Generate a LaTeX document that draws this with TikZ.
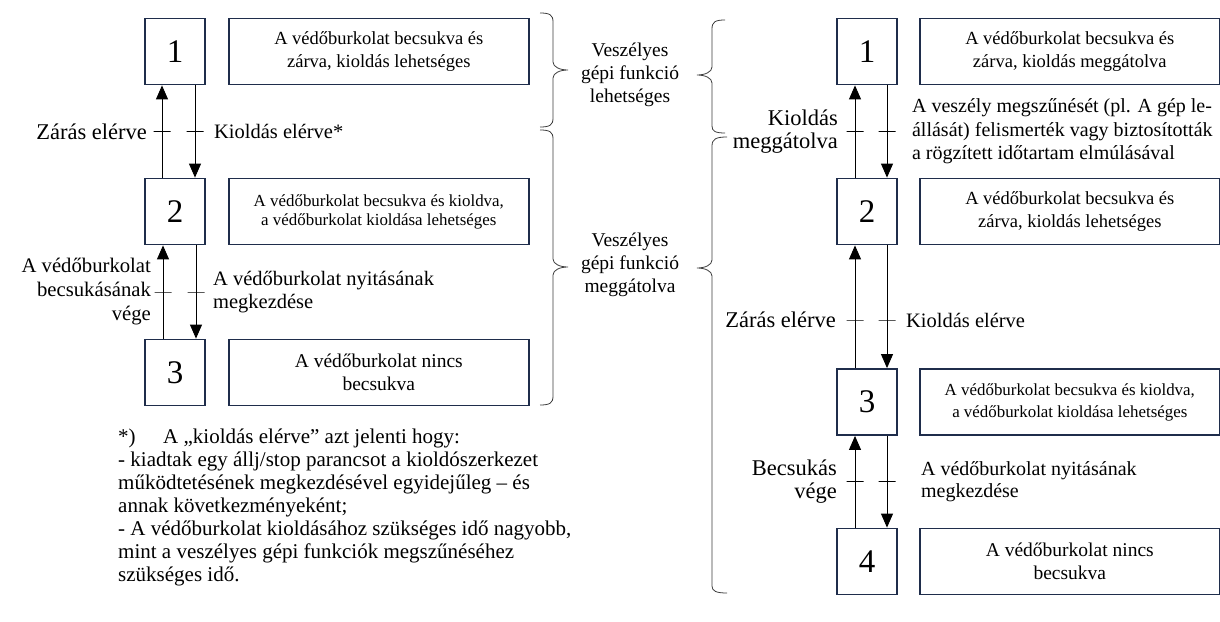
\documentclass[tikz,border=0pt]{standalone}
\usepackage{fontspec}
\setmainfont{Liberation Serif}
\usepackage{tikz}
\usetikzlibrary{positioning, arrows.meta}
\definecolor{framecol}{RGB}{31,45,75}
\definecolor{bracecol}{RGB}{60,60,60}

\begin{document}
\begin{tikzpicture}[x=1pt, y=-1pt,
	statebox/.style={rectangle, draw=framecol, line width=1.8pt, minimum width=60pt, minimum height=66pt, inner sep=0pt, font=\fontsize{33}{36}\selectfont},
	desc/.style={rectangle, draw=framecol, line width=1.8pt, minimum width=300pt, minimum height=66pt, inner sep=2pt, align=center, font=\fontsize{18.5}{22.5}\selectfont},
	descsmall/.style={desc, font=\fontsize{16.9}{19}\selectfont},
	descbig/.style={desc, font=\fontsize{19.5}{23}\selectfont},
	trans/.style={-{Triangle[length=14pt,width=12pt]}, line width=0.9pt},
	tickmark/.style={draw, line width=0.8pt, minimum width=17pt, minimum height=0pt, inner sep=0pt},
	biglbl/.style={align=right, inner sep=3pt, font=\fontsize{22.5}{23}\selectfont},
	lbl/.style={align=left, inner sep=3pt, font=\fontsize{20.5}{22.5}\selectfont},
	bracetext/.style={align=center, font=\fontsize{19.5}{23}\selectfont},
	bracepath/.style={draw=bracecol, line width=0.8pt}]
	\useasboundingbox (0,0) rectangle (1220,621);

	\node[statebox] (s1) at (175,51.5) {1};
	\node[statebox] (s2) at (175,211.5) {2};
	\node[statebox] (s3) at (175,372.5) {3};
	\node[desc, right=22pt of s1] (d1) {A védőburkolat becsukva és\\zárva, kioldás lehetséges};
	\node[descsmall, right=22pt of s2] (d2) {A védőburkolat becsukva és kioldva,\\a védőburkolat kioldása lehetséges};
	\node[descbig, right=22pt of s3] (d3) {A védőburkolat nincs\\becsukva};

	\draw[trans] ([xshift=-13pt]s2.north) -- node[tickmark] (k21) {} ([xshift=-13pt]s1.south);
	\draw[trans] ([xshift=20pt]s1.south) -- node[tickmark] (k12) {} ([xshift=20pt]s2.north);
	\draw[trans] ([xshift=-12pt]s3.north) -- node[tickmark] (k32) {} ([xshift=-12pt]s2.south);
	\draw[trans] ([xshift=21pt]s2.south) -- node[tickmark] (k23) {} ([xshift=21pt]s3.north);
	\node[biglbl, left=3pt of k21] (l21) {Zárás elérve};
	\node[lbl, right=7pt of k12] (l12) {Kioldás elérve*};
	\node[lbl, align=right, font=\fontsize{20.7}{24}\selectfont, left=0pt of k32] (l32) {A védőburkolat\\becsukásának\\vége};
	\node[lbl, right=5pt of k23] (l23) {A védőburkolat nyitásának\\megkezdése};

	\node[statebox] (r1) at (867,51.5) {1};
	\node[statebox] (r2) at (867,211.5) {2};
	\node[statebox] (r3) at (867,402) {3};
	\node[statebox] (r4) at (867,561.5) {4};
	\node[desc, right=21pt of r1] (e1) {A védőburkolat becsukva és\\zárva, kioldás meggátolva};
	\node[desc, right=21pt of r2] (e2) {A védőburkolat becsukva és\\zárva, kioldás lehetséges};
	\node[descsmall, font=\fontsize{16.9}{22}\selectfont, right=21pt of r3] (e3) {A védőburkolat becsukva és kioldva,\\a védőburkolat kioldása lehetséges};
	\node[descbig, right=21pt of r4] (e4) {A védőburkolat nincs\\becsukva};

	\draw[trans] ([xshift=-12pt]r2.north) -- node[tickmark] (m21) {} ([xshift=-12pt]r1.south);
	\draw[trans] ([xshift=20pt]r1.south) -- node[tickmark] (m12) {} ([xshift=20pt]r2.north);
	\draw[trans] ([xshift=-12pt]r3.north) -- node[tickmark, pos=.392] (m32) {} ([xshift=-12pt]r2.south);
	\draw[trans] ([xshift=20pt]r2.south) -- node[tickmark, pos=.608] (m23) {} ([xshift=20pt]r3.north);
	\draw[trans] ([xshift=-12pt]r4.north) -- node[tickmark] (m43) {} ([xshift=-12pt]r3.south);
	\draw[trans] ([xshift=20pt]r3.south) -- node[tickmark] (m34) {} ([xshift=20pt]r4.north);
	\node[biglbl, left=5pt of m21] (n21) {Kioldás\\meggátolva};
	\node[lbl, font=\fontsize{20}{23.5}\selectfont, right=13pt of m12] (n12) {A veszély megszűnését (pl. A gép le-\\állását) felismerték vagy biztosították\\a rögzített időtartam elmúlásával};
	\node[biglbl, left=7pt of m32] (n32) {Zárás elérve};
	\node[lbl, right=7pt of m23] (n23) {Kioldás elérve};
	\node[biglbl, left=6pt of m43] (n43) {Becsukás\\vége};
	\node[lbl, font=\fontsize{20}{22}\selectfont, right=22pt of m34] (n34) {A védőburkolat nyitásának\\megkezdése};

	\draw[bracepath] (540,13) .. controls (550,13) and (553,15) .. (553,22) -- (553,62)
		.. controls (553,67) and (560,70) .. (568,70) .. controls (560,70) and (553,73) .. (553,78)
		-- (553,118) .. controls (553,125) and (550,127) .. (540,127);
	\draw[bracepath] (540,130) .. controls (550,130) and (553,132) .. (553,139) -- (553,259)
		.. controls (553,264) and (560,267) .. (568,267) .. controls (560,267) and (553,270) .. (553,275)
		-- (553,396) .. controls (553,403) and (550,405) .. (540,405);
	\draw[bracepath] (725,20) .. controls (715,20) and (712,22) .. (712,29) -- (712,67)
		.. controls (712,72) and (705,75) .. (697,75) .. controls (705,75) and (712,78) .. (712,83)
		-- (712,126) .. controls (712,131) and (715,133) .. (725,133);
	\draw[bracepath] (727,137) .. controls (716,137) and (712,139) .. (712,146) -- (712,260)
		.. controls (712,265) and (705,268) .. (697,268) .. controls (705,268) and (712,271) .. (712,276)
		-- (712,586) .. controls (712,591) and (716,593) .. (727,593);
	\node[bracetext] (v1) at (630,75) {Veszélyes\\gépi funkció\\lehetséges};
	\node[bracetext] (v2) at (630,265) {Veszélyes\\gépi funkció\\meggátolva};

	\node[align=left, inner sep=0pt, anchor=north west, font=\fontsize{21}{23}\selectfont] (note) at (118,429)
		{\makebox[45pt][l]{*)}A „kioldás elérve” azt jelenti hogy:\\
		- kiadtak egy állj/stop parancsot a kioldószerkezet\\
		működtetésének megkezdésével egyidejűleg – és\\
		annak következményeként;\\
		- A védőburkolat kioldásához szükséges idő nagyobb,\\
		mint a veszélyes gépi funkciók megszűnéséhez\\
		szükséges idő.};
\end{tikzpicture}
\end{document}
